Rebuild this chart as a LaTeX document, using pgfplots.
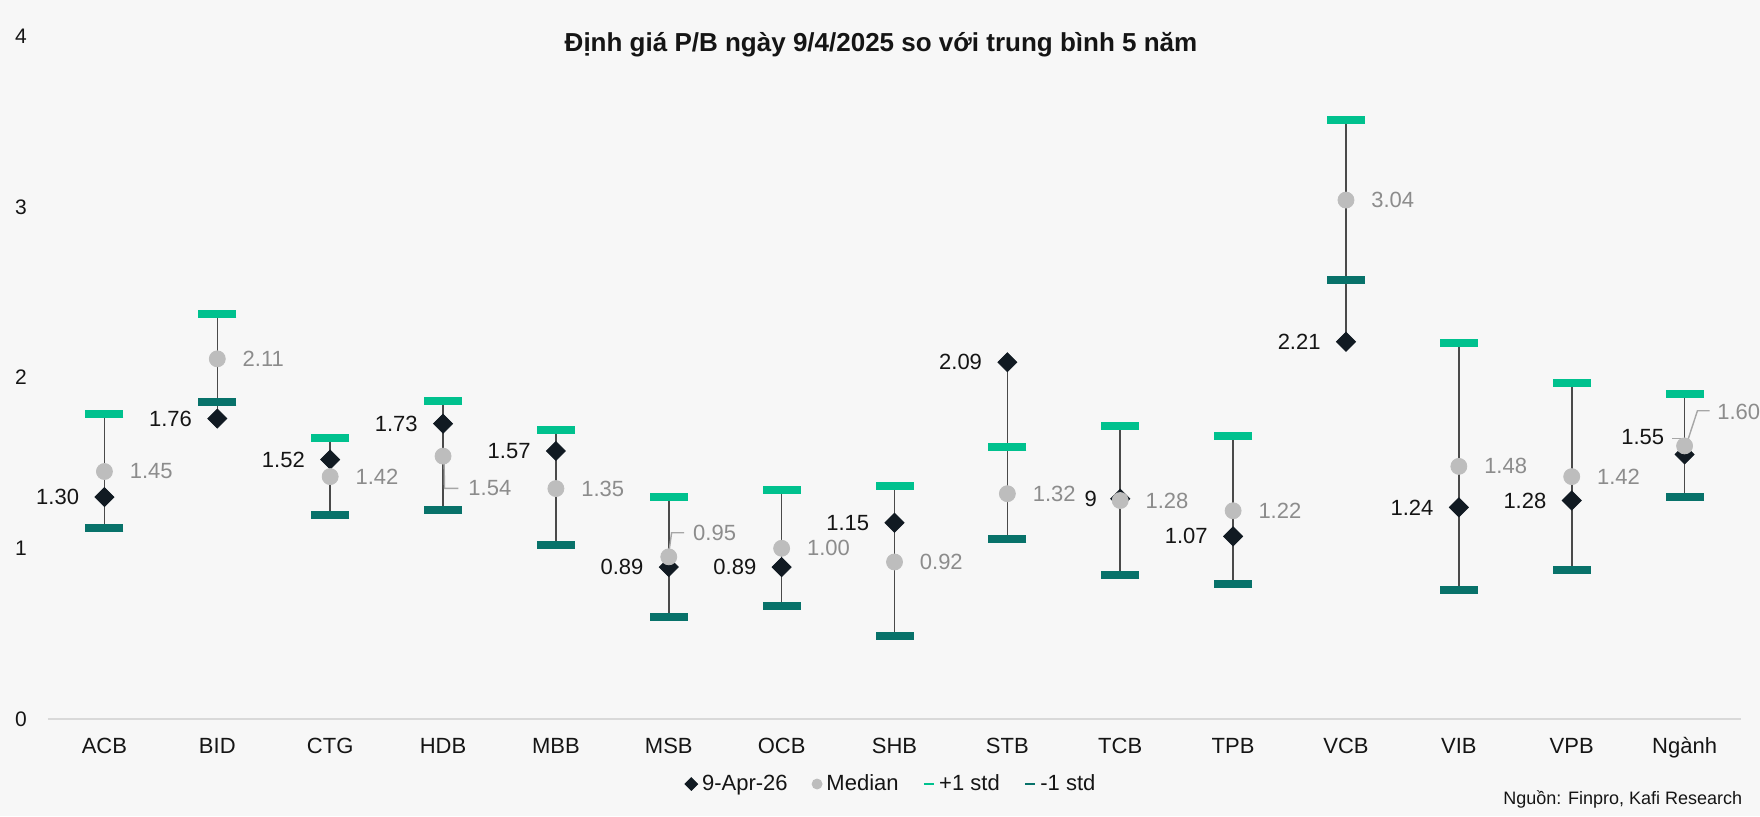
\documentclass[border=0pt]{standalone}
\usepackage{fontspec}
\setmainfont{Liberation Sans}
\usepackage{pgfplots}
\usepackage{pgfplotstable}
\pgfplotsset{compat=1.18}

\definecolor{bgc}{HTML}{F7F7F7}
\definecolor{hic}{HTML}{00C18E}
\definecolor{loc}{HTML}{08726A}
\definecolor{curc}{HTML}{111A22}
\definecolor{medc}{HTML}{BDBDBD}
\definecolor{medtext}{HTML}{8C8C8C}
\definecolor{linec}{HTML}{4A4A4A}
\definecolor{leadc}{HTML}{A6A6A6}
\definecolor{axisc}{HTML}{D9D9D9}
\definecolor{txt}{HTML}{151515}

% P/B: current (9-Apr), 5y median, +1 std, -1 std
% cdx/cdy, mdx/mdy = label offsets in pt
\pgfplotstableread{
x  cur  med  hi    lo    clab cdx   cdy  mlab mdx  mdy
0  1.30 1.45 1.785 1.121 1.30 -12.5 0    1.45 12.5 0
1  1.76 2.11 2.371 1.855 1.76 -12.5 0    2.11 12.5 0
2  1.52 1.42 1.648 1.196 1.52 -12.5 0    1.42 12.5 0
3  1.73 1.54 1.862 1.226 1.73 -12.5 0    1.54 12.5 -16.1
4  1.57 1.35 1.691 1.021 1.57 -12.5 0    1.35 12.5 0
5  0.89 0.95 1.302 0.599 0.89 -12.5 0    0.95 12.0 11.9
6  0.89 1.00 1.342 0.664 0.89 -12.5 0    1.00 12.5 0
7  1.15 0.92 1.365 0.484 1.15 -12.5 0    0.92 12.5 0
8  2.09 1.32 1.595 1.052 2.09 -12.5 0    1.32 12.5 0
9  1.29 1.28 1.719 0.845 9    -11.5 0    1.28 12.5 0
10 1.07 1.22 1.660 0.789 1.07 -12.5 0    1.22 12.5 0
11 2.21 3.04 3.509 2.572 2.21 -12.5 0    3.04 12.5 0
12 1.24 1.48 2.204 0.758 1.24 -12.5 0    1.48 12.5 0
13 1.28 1.42 1.970 0.875 1.28 -12.5 0    1.42 12.5 0
14 1.55 1.60 1.906 1.298 1.55 -10.0 8.5  1.60 16.2 17.1
}\datatable

% grey stems: lowest to highest of the four values
\pgfplotstableread{
x  y
0  1.121
0  1.785
0  nan
1  1.76
1  2.371
1  nan
2  1.196
2  1.648
2  nan
3  1.226
3  1.862
3  nan
4  1.021
4  1.691
4  nan
5  0.599
5  1.302
5  nan
6  0.664
6  1.342
6  nan
7  0.484
7  1.365
7  nan
8  1.052
8  2.09
8  nan
9  0.845
9  1.719
9  nan
10 0.789
10 1.660
10 nan
11 2.21
11 3.509
11 nan
12 0.758
12 2.204
12 nan
13 0.875
13 1.970
13 nan
14 1.298
14 1.906
}\stemtable

\newcommand{\lblfont}{\fontsize{11}{13}\selectfont}

\begin{document}
\begin{tikzpicture}
\path[use as bounding box, fill=bgc] (-24pt,-48.5pt) rectangle (856pt,359.5pt);
\begin{axis}[
  at={(0,0)}, anchor=south west,
  scale only axis, width=846.5pt, height=341.4pt,
  xmin=-0.5, xmax=14.5, ymin=0, ymax=4,
  xtick={0,...,14},
  xticklabels={ACB,BID,CTG,HDB,MBB,MSB,OCB,SHB,STB,TCB,TPB,VCB,VIB,VPB,Ngành},
  ytick={0,1,2,3,4},
  axis line style={draw=none}, tick style={draw=none}, major tick length=0pt,
  xticklabel style={anchor=base, yshift=-17.2pt, font=\lblfont, text=txt},
  yticklabel style={anchor=center, xshift=-13.5pt, font=\fontsize{10.5}{12}\selectfont, text=txt},
  /pgf/number format/assume math mode=true,
  clip=false,
  unbounded coords=jump,
  legend columns=4,
  legend style={at={(0.4985,-0.0952)}, anchor=center, draw=none, fill=none,
    font=\lblfont, text=txt,
    /tikz/every even column/.append style={column sep=10pt}},
]
\draw[axisc, line width=1pt] (axis cs:-0.5,0) -- (axis cs:14.5,0);

% stems
\addplot[forget plot, draw=linec, line width=0.8pt, mark=none] table[x=x, y=y] \stemtable;

% +1 std / -1 std
\addplot[forget plot, only marks, mark=-, mark size=9.5pt,
  mark options={draw=hic, line width=4pt}] table[x=x, y=hi] \datatable;
\addplot[forget plot, only marks, mark=-, mark size=9.5pt,
  mark options={draw=loc, line width=4pt}] table[x=x, y=lo] \datatable;

% leader lines
\draw[leadc, line width=0.7pt] (axis cs:3.009,1.517) -- (axis cs:3.013,1.351) -- (axis cs:3.136,1.351);
\draw[leadc, line width=0.7pt] (axis cs:5.004,0.990) -- (axis cs:5.025,1.091) -- (axis cs:5.136,1.091);
\draw[leadc, line width=0.7pt] (axis cs:14.012,1.600) -- (axis cs:14.114,1.806) -- (axis cs:14.221,1.806);
\draw[leadc, line width=0.7pt] (axis cs:13.891,1.644) -- (axis cs:13.99,1.644);

% current P/B
\addplot[forget plot, only marks, mark=square*, mark size=3.36pt,
  mark options={rotate=45, draw=curc, fill=curc},
  nodes near coords, point meta=explicit symbolic,
  visualization depends on={\thisrow{cdx} \as \cdx},
  visualization depends on={\thisrow{cdy} \as \cdy},
  every node near coord/.append style={anchor=east, inner sep=0pt,
    xshift=\cdx pt, yshift=\cdy pt, font=\lblfont, text=txt}]
  table[x=x, y=cur, meta=clab] \datatable;

% median
\addplot[forget plot, only marks, mark=*, mark size=4pt,
  mark options={draw=medc, fill=medc},
  nodes near coords, point meta=explicit symbolic,
  visualization depends on={\thisrow{mdx} \as \mdx},
  visualization depends on={\thisrow{mdy} \as \mdy},
  every node near coord/.append style={anchor=west, inner sep=0pt,
    xshift=\mdx pt, yshift=\mdy pt, font=\lblfont, text=medtext}]
  table[x=x, y=med, meta=mlab] \datatable;

\addlegendimage{legend image code/.code={\fill[curc, shift={(0.3cm,0pt)}, rotate=45] (-2.25pt,-2.25pt) rectangle (2.25pt,2.25pt);}}
\addlegendentry{9-Apr-26}
\addlegendimage{legend image code/.code={\fill[medc] (0.3cm,0pt) circle (2.5pt);}}
\addlegendentry{Median}
\addlegendimage{legend image code/.code={\draw[hic, line width=1.3pt] (0.3cm-2.5pt,0pt) -- (0.3cm+2.5pt,0pt);}}
\addlegendentry{+1 std}
\addlegendimage{legend image code/.code={\draw[loc, line width=1.3pt] (0.3cm-2.5pt,0pt) -- (0.3cm+2.5pt,0pt);}}
\addlegendentry{-1 std}
\end{axis}
\node[anchor=base, font=\bfseries\fontsize{13}{15}\selectfont, text=txt] at (416.5pt,333.65pt)
  {Định giá P/B ngày 9/4/2025 so với trung bình 5 năm};
\node[anchor=base east, inner sep=0pt, font=\fontsize{9}{11}\selectfont, text=txt] at (847.3pt,-42.5pt)
  {Nguồn: Finpro, Kafi Research};
\end{tikzpicture}
\end{document}
